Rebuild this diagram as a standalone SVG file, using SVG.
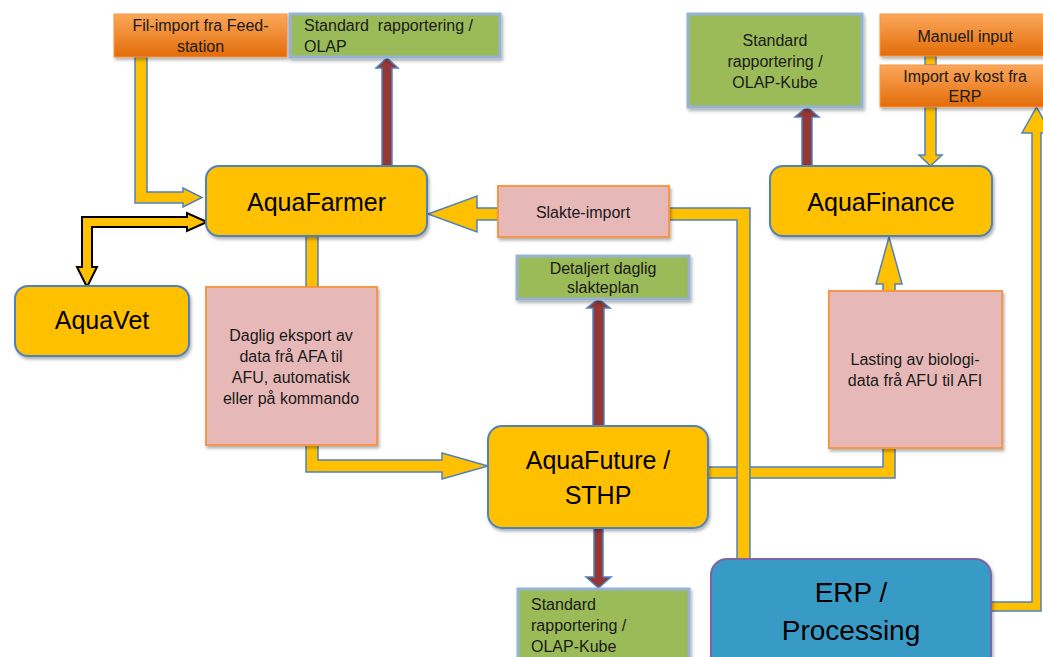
<svg xmlns="http://www.w3.org/2000/svg" width="1043" height="657" viewBox="0 0 1043 657">
<defs>
<linearGradient id="og" x1="0" y1="0" x2="0" y2="1">
<stop offset="0" stop-color="#FBA75A"/>
<stop offset="1" stop-color="#E36C09"/>
</linearGradient>
<filter id="sh" x="-10%" y="-10%" width="125%" height="130%">
<feDropShadow dx="1.5" dy="2.5" stdDeviation="1.8" flood-color="#000" flood-opacity="0.3"/>
</filter>
<style>
.t{font-family:"Liberation Sans",Arial,sans-serif;fill:#1a1a1a}
.s{font-size:16px}
.b{font-size:25px;fill:#000}
.e{font-size:28px;fill:#000}
.m{text-anchor:middle}
.y{fill:#FFC000;stroke:#4F81BD;stroke-width:2;filter:url(#sh)}
.g{fill:#9BBB59;stroke:#95B3D7;stroke-width:3;filter:url(#sh)}
.p{fill:#E6B9B8;stroke:#F79646;stroke-width:2;filter:url(#sh)}
.o{fill:url(#og);stroke:#F79646;stroke-width:1;filter:url(#sh)}
.erp{fill:#389BC6;stroke:#8064A2;stroke-width:2;filter:url(#sh)}
.ya{fill:#FFC000;stroke:#4F81BD;stroke-width:1.5;stroke-linejoin:miter}
.ka{fill:#FFC000;stroke:#000;stroke-width:2;stroke-linejoin:miter}
.ra{fill:#953735;stroke:#4F81BD;stroke-width:1.5;stroke-linejoin:miter}
</style>
</defs>
<rect width="1043" height="657" fill="#fff"/>

<g id="connectors">
<polygon class="ya" points="135,57 147,57 147,192 183,192 183,188 202,197.5 183,207 183,203 135,203"/>
<polygon class="ka" points="207,222 187,213 187,217 82,217 82,267 77,267 87,287 97,267 92,267 92,227 187,227 187,231"/>
<polygon class="ra" points="382,166 382,68 376,68 387,58 398,68 392,68 392,166"/>
<polygon class="ya" points="306,236 318,236 318,460 442,460 442,453 488,466 442,479 442,472 306,472"/>
<polygon class="ya" points="498,208 477,208 477,196 428,214 477,232 477,220 498,220"/>
<polygon class="ya" points="708,467 883,467 883,284 876,284 889,237 902,284 895,284 895,478 708,478"/>
<polygon class="ya" points="669,208 750,208 750,560 737,560 737,220 669,220"/>
<polygon class="ya" points="991,602 1032,602 1032,133 1022,133 1036.5,107 1051,133 1041,133 1041,611 991,611"/>
<rect class="ya" x="925" y="56" width="11" height="9"/>
<polygon class="ya" points="925,107 936,107 936,155 942,155 930.5,166 919,155 925,155"/>
<polygon class="ra" points="802,166 802,117 795,117 807,107 819,117 812,117 812,166"/>
<polygon class="ra" points="593,426 593,308 587,308 598.5,299 610,308 604,308 604,426"/>
<polygon class="ra" points="594,528 603,528 603,577 611,577 598.5,588 586,577 594,577"/>
</g>

<g id="fil-import">
<rect class="o" x="114" y="14" width="173" height="43"/>
<text class="t s m" x="200.5" y="31">Fil-import fra Feed-</text>
<text class="t s m" x="200.5" y="52">station</text>
</g>
<g id="olap-top">
<rect class="g" x="290" y="14" width="210" height="43"/>
<text class="t s" x="304" y="31" xml:space="preserve">Standard  rapportering /</text>
<text class="t s" x="304" y="52">OLAP</text>
</g>
<g id="aquafarmer">
<rect class="y" x="206" y="166" width="221" height="70" rx="13"/>
<text class="t b m" x="316.5" y="211">AquaFarmer</text>
</g>
<g id="aquavet">
<rect class="y" x="15" y="286" width="174" height="70" rx="13"/>
<text class="t b m" x="102" y="329">AquaVet</text>
</g>
<g id="daglig-eksport">
<rect class="p" x="206" y="287" width="171" height="158"/>
<text class="t s m" x="291" y="341">Daglig eksport av</text>
<text class="t s m" x="291" y="362">data frå AFA til</text>
<text class="t s m" x="291" y="383">AFU, automatisk</text>
<text class="t s m" x="291" y="404">eller på kommando</text>
</g>
<g id="slakte-import">
<rect class="p" x="498" y="186" width="171" height="51"/>
<text class="t s m" x="583" y="218">Slakte-import</text>
</g>
<g id="slakteplan">
<rect class="g" x="517" y="256" width="172" height="43"/>
<text class="t s m" x="603" y="274">Detaljert daglig</text>
<text class="t s m" x="603" y="293">slakteplan</text>
</g>
<g id="aquafuture">
<rect class="y" x="488" y="426" width="220" height="102" rx="14"/>
<text class="t b m" x="598" y="469">AquaFuture /</text>
<text class="t b m" x="598" y="504">STHP</text>
</g>
<g id="olap-bottom">
<rect class="g" x="518" y="589" width="171" height="80"/>
<text class="t s" x="531" y="610">Standard</text>
<text class="t s" x="531" y="631">rapportering /</text>
<text class="t s" x="531" y="652">OLAP-Kube</text>
</g>
<g id="erp">
<rect class="erp" x="711" y="559" width="280" height="120" rx="16"/>
<text class="t e m" x="851" y="602">ERP /</text>
<text class="t e m" x="851" y="640">Processing</text>
</g>
<g id="olap-right">
<rect class="g" x="688" y="14" width="174" height="93"/>
<text class="t s m" x="775" y="46">Standard</text>
<text class="t s m" x="775" y="67">rapportering /</text>
<text class="t s m" x="775" y="88">OLAP-Kube</text>
</g>
<g id="manuell-input">
<rect class="o" x="880" y="14" width="170" height="42"/>
<text class="t s m" x="965" y="42">Manuell input</text>
</g>
<g id="import-kost">
<rect class="o" x="880" y="65" width="170" height="42"/>
<text class="t s m" x="965" y="82">Import av kost fra</text>
<text class="t s m" x="965" y="102">ERP</text>
</g>
<g id="aquafinance">
<rect class="y" x="770" y="166" width="222" height="70" rx="13"/>
<text class="t b m" x="881" y="211">AquaFinance</text>
</g>
<g id="lasting">
<rect class="p" x="829" y="291" width="173" height="157"/>
<text class="t s m" x="915" y="365">Lasting av biologi-</text>
<text class="t s m" x="915" y="386">data frå AFU til AFI</text>
</g>
</svg>
